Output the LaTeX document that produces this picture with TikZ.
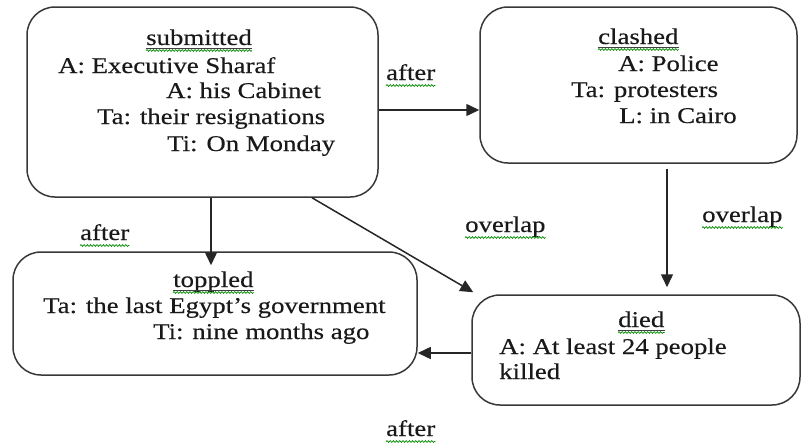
\documentclass[tikz,border=0pt]{standalone}
\usepackage{fontspec}
\setmainfont{Liberation Serif}[FakeStretch=1.19,FakeBold=0.35]
\usetikzlibrary{arrows.meta,decorations.pathmorphing,calc}

\begin{document}
\begin{tikzpicture}[x=1pt,y=-1pt,
  box/.style={draw=black!78, line width=1.5pt, rounded corners=28pt, inner sep=0pt},
  txt/.style={inner sep=0pt, anchor=base west, font=\fontsize{22.5}{26}\selectfont, text=black!90},
  arr/.style={draw=black!85, line width=1.5pt, -{Triangle[length=13pt,width=12pt]}},
  spell/.style={draw=green!55!black, line width=0.7pt, decorate,
    decoration={snake, segment length=3.2pt, amplitude=0.9pt}},
  uline/.style={draw=black!75, line width=0.9pt}]

\useasboundingbox (0,0) rectangle (801,447);

% event boxes
\node[box, minimum width=351pt, minimum height=190pt] (submitted) at (202.5,102) {};
\node[box, minimum width=317pt, minimum height=156pt] (clashed) at (638.5,85) {};
\node[box, minimum width=404pt, minimum height=123pt] (toppled) at (215,313.5) {};
\node[box, minimum width=328pt, minimum height=110pt] (died) at (636,350) {};

% submitted
\node[txt] (t-sub) at (146,45) {submitted};
\node[txt] (s1) at (58,73) {A: Executive Sharaf};
\node[txt] (s2) at (166,98) {A: his Cabinet};
\node[txt] (s3) at (97,124) {Ta: their resignations};
\node[txt] (s4) at (167,151) {Ti: On Monday};

% clashed
\node[txt] (t-cla) at (598,44) {clashed};
\node[txt] (c1) at (618,71) {A: Police};
\node[txt] (c2) at (571,97) {Ta: protesters};
\node[txt] (c3) at (619,123) {L: in Cairo};

% toppled
\node[txt] (t-top) at (173,287) {toppled};
\node[txt] (p1) at (43,313) {Ta: the last Egypt’s government};
\node[txt] (p2) at (153,339) {Ti: nine months ago};

% died
\node[txt] (t-die) at (618,327) {died};
\node[txt] (d1) at (499,354) {A: At least 24 people};
\node[txt] (d2) at (499,379) {killed};

% relation labels
\node[txt] (l1) at (386,80) {after};
\node[txt] (l2) at (80,240) {after};
\node[txt] (l3) at (465,232) {overlap};
\node[txt] (l4) at (702,222) {overlap};
\node[txt] (l5) at (386,436) {after};

% underlined event names
\foreach \n in {t-sub,t-cla,t-top,t-die}{
  \draw[uline] ([yshift=-3pt]\n.base west) -- ([yshift=-3pt]\n.base east);
  \draw[spell] ([yshift=-5.5pt]\n.base west) -- ([yshift=-5.5pt]\n.base east);
}
\foreach \n in {l1,l2,l3,l4,l5}{
  \draw[spell] ([yshift=-5.5pt]\n.base west) -- ([yshift=-5.5pt]\n.base east);
}

% connectors
\coordinate (ya) at (0,110);
\coordinate (yb) at (0,353);
\coordinate (xa) at (211,0);
\coordinate (xb) at (312,0);
\coordinate (xc) at (667,0);

\draw[arr] (submitted.east |- ya) -- (clashed.west |- ya);
\draw[arr] (submitted.south -| xa) -- ($(toppled.north -| xa)+(0,14)$);
\draw[arr] (submitted.south -| xb) -- ($(died.north west)+(2,-2)$);
\draw[arr, shorten <=5pt] (clashed.south -| xc) -- ($(died.north -| xc)+(0,-7)$);
\draw[arr] (died.west |- yb) -- (toppled.east |- yb);

\end{tikzpicture}
\end{document}
